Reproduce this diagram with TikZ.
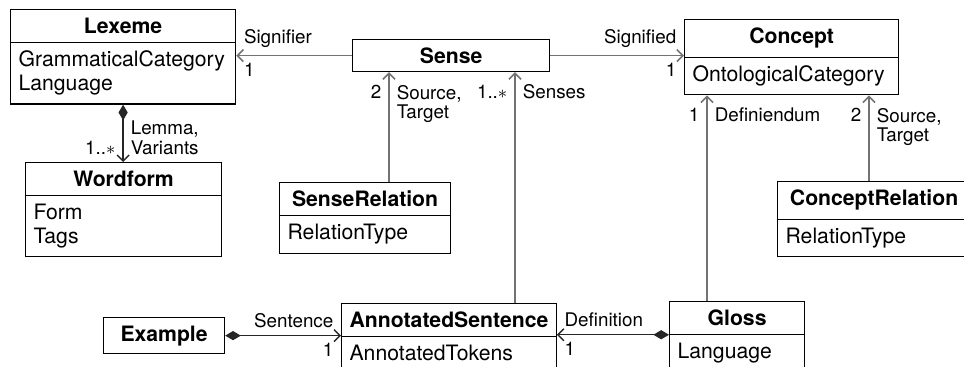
\documentclass[tikz,border=0pt]{standalone}
\usepackage{fontspec}
\setmainfont{TeX Gyre Heros}
\usetikzlibrary{shapes.multipart,arrows.meta}

\tikzset{
  umlclass/.style={draw, line width=0.6pt, rectangle split, rectangle split parts=2,
    rectangle split part align={center,left}, align=left, inner xsep=4pt, inner ysep=4pt,
    anchor=north west, font=\fontsize{10.6}{12}\selectfont},
  umlname/.style={draw, line width=0.6pt, inner xsep=4pt, inner ysep=4pt,
    anchor=north west, font=\fontsize{10.6}{12}\selectfont\bfseries},
  assoc/.style={draw=black!55, line width=0.8pt, -{Straight Barb[length=3pt,width=6pt]}},
  comp/.style={draw=black!85, line width=0.7pt,
    {Diamond[length=7.8pt,width=4.6pt]}-{Straight Barb[length=3pt,width=6pt]}},
  role/.style={inner sep=3.5pt, align=left, font=\fontsize{9.4}{9.6}\selectfont}
}

\begin{document}
\begin{tikzpicture}[x=0.5pt,y=-0.5pt]
\useasboundingbox (0,0) rectangle (964,367);

\node[umlclass, minimum width=112.5pt] (lexeme) at (10,9) {\textbf{Lexeme}\nodepart{two}GrammaticalCategory\\Language};
\node[umlname, minimum width=98.5pt] (sense) at (352,39) {Sense};
\node[umlclass, minimum width=107pt] (concept) at (684,19) {\textbf{Concept}\nodepart{two}OntologicalCategory};
\node[umlclass, minimum width=98pt] (wordform) at (25,162) {\textbf{Wordform}\nodepart{two}Form\\Tags};
\node[umlclass, minimum width=85.5pt] (senserel) at (279,182) {\textbf{SenseRelation}\nodepart{two}RelationType};
\node[umlclass, minimum width=96.5pt] (conceptrel) at (777,181) {\textbf{ConceptRelation}\nodepart{two}RelationType};
\node[umlname, minimum width=60.5pt] (example) at (103,317) {Example};
\node[umlclass, minimum width=107pt] (annot) at (341,303) {\textbf{AnnotatedSentence}\nodepart{two}AnnotatedTokens};
\node[umlclass, minimum width=67.5pt] (gloss) at (669,301) {\textbf{Gloss}\nodepart{two}Language};

\draw[assoc] (sense.west) -- (sense.west -| lexeme.east)
  node[role, above right] {Signifier} node[role, below right] {1};
\draw[assoc] (sense.east) -- (sense.east -| concept.west)
  node[role, above left] {Signified} node[role, below left] {1};
\draw[comp] (lexeme.south) -- (lexeme.south |- wordform.north)
  node[role, above right] {Lemma,\\Variants} node[role, above left] {1..$\ast$};

\draw[assoc] (senserel.north -| 389,0) -- (sense.south -| 389,0)
  node[role, below left, yshift=-2.5pt] {2} node[role, below right, yshift=-2.5pt] {Source,\\Target};
\draw[assoc] (annot.north -| 515,0) -- (sense.south -| 515,0)
  node[role, below left, yshift=-2.5pt] {1..$\ast$} node[role, below right, yshift=-2.5pt] {Senses};
\draw[assoc] (gloss.north -| 707,0) -- (concept.south -| 707,0)
  node[role, below left, yshift=-2.5pt] {1} node[role, below right, yshift=-2.5pt] {Definiendum};
\draw[assoc] (conceptrel.north -| 869,0) -- (concept.south -| 869,0)
  node[role, below left, yshift=-2.5pt] {2} node[role, below right, yshift=-2.5pt] {Source,\\Target};

\draw[comp] (example.east) -- (example.east -| annot.west)
  node[role, above left] {Sentence} node[role, below left] {1};
\draw[comp] (gloss.text split west) -- (gloss.text split west -| annot.east)
  node[role, above right] {Definition} node[role, below right] {1};
\end{tikzpicture}
\end{document}
